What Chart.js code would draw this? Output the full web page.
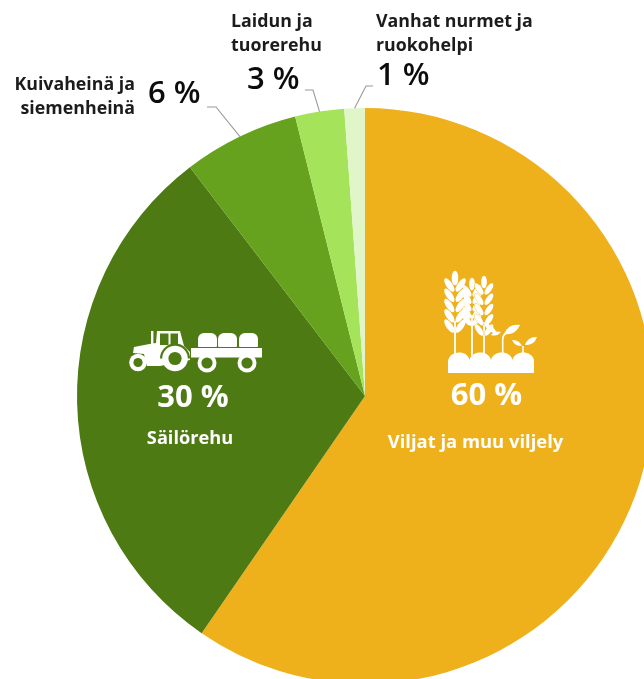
<!DOCTYPE html>
<html lang="fi"><head><meta charset="utf-8">
<style>html,body{margin:0;padding:0;background:#fff;width:644px;height:679px;overflow:hidden}
#w{position:absolute;left:0;top:0;width:644px;height:679px;overflow:hidden}canvas{display:block}</style>
<script src="https://cdn.jsdelivr.net/npm/chart.js@4"></script></head>
<body><div id="w"><canvas id="c" width="730" height="792"></canvas></div>
<script>
const categories = ["Viljat ja muu viljely","Säilörehu","Kuivaheinä ja siemenheinä","Laidun ja tuorerehu","Vanhat nurmet ja ruokohelpi"];
const values = [59.6,30,6.5,2.75,1.15];
const percentLabels = ["60 %","30 %","6 %","3 %","1 %"];
const colors = ["#EFB11B","#4E7A14","#66A21E","#A5E35A","#E0F5C8"];
const FONT='"Open Sans","Noto Sans",sans-serif';

function text(ctx,s,x,y,size,color,align,weight){
  ctx.font=(weight||600)+' '+size+'px '+FONT;ctx.fillStyle=color;ctx.textAlign=align||'left';ctx.textBaseline='middle';ctx.fillText(s,x,y);
}
function grain(ctx,x,y,len,w,rot,edge){ctx.beginPath();ctx.ellipse(x,y,w,len,rot,0,Math.PI*2);if(edge)ctx.stroke();ctx.fill();}
function wheat(ctx,x,top,headBottom,stemBottom,scale,edge){
  ctx.fillStyle='#fff';ctx.strokeStyle=colors[0];ctx.lineWidth=.7;
  ctx.fillRect(x-0.9,headBottom-6,1.8,stemBottom-headBottom+6);
  const n=5,step=(headBottom-top-14)/(n-1);
  for(let i=n-1;i>=0;i--){
    const y=top+13+step*i;
    grain(ctx,x-4.8*scale,y,6.6*scale,2.7*scale,-0.6,edge);
    grain(ctx,x+4.8*scale,y,6.6*scale,2.7*scale,0.6,edge);
  }
  grain(ctx,x,top+6,6.2*scale,2.8*scale,0,edge);
}
function leaf(ctx,x0,y0,x1,y1,b){
  const dx=x1-x0,dy=y1-y0,l=Math.hypot(dx,dy),nx=-dy/l*b,ny=dx/l*b,mx=(x0+x1)/2,my=(y0+y1)/2;
  ctx.beginPath();ctx.moveTo(x0,y0);ctx.quadraticCurveTo(mx+nx,my+ny,x1,y1);ctx.quadraticCurveTo(mx-nx,my-ny,x0,y0);ctx.fill();
}
function wheatIcon(ctx){
  wheat(ctx,472,278,321,356,1.02,false);
  wheat(ctx,484,276,331,356,1.02,true);
  wheat(ctx,455,272,327,356,1.18,false);
  ctx.fillStyle='#fff';ctx.strokeStyle='#fff';ctx.lineWidth=1.6;
  ctx.beginPath();ctx.moveTo(502.7,355);ctx.lineTo(502.7,339);ctx.quadraticCurveTo(503,335,506,333);ctx.stroke();
  leaf(ctx,483,322,498,335,5);leaf(ctx,491,335,501,332,3.5);leaf(ctx,504,334,520,325,7);
  ctx.beginPath();ctx.moveTo(523,355);ctx.lineTo(523,346);ctx.stroke();
  leaf(ctx,512,340,522,346,4);leaf(ctx,525,345,537,337,5.5);
  ctx.beginPath();ctx.moveTo(448,373);ctx.lineTo(448,361);
  const xs=[448,469.5,491,512.5,534];
  for(let i=0;i<4;i++){const a=xs[i],b=xs[i+1];ctx.bezierCurveTo(a+2,350,b-2,350,b,360);}
  ctx.lineTo(534,373);ctx.closePath();ctx.fill();
}
function wheel(ctx,x,y,r,ri,color){
  ctx.fillStyle='#fff';ctx.beginPath();ctx.arc(x,y,r,0,Math.PI*2);ctx.fill();
  ctx.fillStyle=color;ctx.beginPath();ctx.arc(x,y,ri,0,Math.PI*2);ctx.fill();
}
function round(ctx,x,y,w,h,r){ctx.beginPath();ctx.roundRect(x,y,w,h,r);ctx.fill();}
function tractorIcon(ctx){
  const bg=colors[1];
  ctx.fillStyle='#fff';
  ctx.beginPath();ctx.moveTo(133,353);ctx.lineTo(134,347);ctx.lineTo(152,343.5);ctx.lineTo(156,343);ctx.lineTo(157,331);ctx.lineTo(180,331);ctx.lineTo(184,346);ctx.lineTo(190,352);ctx.lineTo(190,360);ctx.lineTo(160,366);ctx.lineTo(147,366);ctx.lineTo(144,354);ctx.closePath();ctx.fill();
  ctx.fillRect(151,331,2.4,13);
  ctx.fillStyle=bg;
  ctx.fillRect(160,333.5,8.5,11.5);
  ctx.fillRect(170.5,333.5,7.5,11);
  ctx.fillStyle=bg;ctx.beginPath();ctx.arc(175,358.5,15,Math.PI,0);ctx.fill();
  wheel(ctx,175,358.5,12.8,6.6,bg);
  wheel(ctx,138,362.5,8.8,4.6,bg);
  ctx.fillStyle='#fff';
  ctx.fillRect(191,348,71,9.5);
  round(ctx,198,333,19,14,[6,6,1,1]);round(ctx,218,333,19,14,[6,6,1,1]);round(ctx,239,333,19,14,[6,6,1,1]);
  wheel(ctx,207,363,9.5,5.6,bg);
  wheel(ctx,247,363,9.5,5.6,bg);
}
const leaders=[[2,[207,107],[216,107]],[3,[305,90],[313,90]],[4,[373,86],[366,86]]];
const overlay={id:'overlay',afterDatasetsDraw(chart){
  const ctx=chart.ctx,arcs=chart.getDatasetMeta(0).data;ctx.save();
  ctx.strokeStyle='#9a9a9a';ctx.lineWidth=1.1;
  leaders.forEach(([i,a,b])=>{const el=arcs[i],m=(el.startAngle+el.endAngle)/2;
    ctx.beginPath();ctx.moveTo(a[0],a[1]);ctx.lineTo(b[0],b[1]);ctx.lineTo(el.x+Math.cos(m)*el.outerRadius,el.y+Math.sin(m)*el.outerRadius);ctx.stroke();});
  wheatIcon(ctx);tractorIcon(ctx);
  text(ctx,percentLabels[0],486.5,396,31,'#fff','center',700);
  text(ctx,categories[0],475.5,443,18.4,'#fff','center',700);
  text(ctx,percentLabels[1],193,398,31,'#fff','center',700);
  text(ctx,categories[1],190,439,18.2,'#fff','center',700);
  const dark='#1c1c1c';
  text(ctx,"Kuivaheinä ja",135,85,17.8,dark,'right',700);
  text(ctx,"siemenheinä",135,109,17.8,dark,'right',700);
  text(ctx,percentLabels[2],148,94,31,'#0c0c0c','left',600);
  text(ctx,"Laidun ja",231,22,17.8,dark,'left',700);
  text(ctx,"tuorerehu",231,46,17.8,dark,'left',700);
  text(ctx,percentLabels[3],247,80,31,'#0c0c0c','left',600);
  text(ctx,"Vanhat nurmet ja",376,22,17.8,dark,'left',700);
  text(ctx,"ruokohelpi",376,46,17.8,dark,'left',700);
  text(ctx,percentLabels[4],377,76,31,'#0c0c0c','left',600);
  ctx.restore();
}};
new Chart(document.getElementById('c'),{type:'pie',
  data:{labels:categories,datasets:[{data:values,backgroundColor:colors,borderWidth:0,radius:288}]},
  options:{responsive:false,animation:false,layout:{padding:0},plugins:{legend:{display:false},tooltip:{enabled:false}}},
  plugins:[overlay]});
</script></body></html>
